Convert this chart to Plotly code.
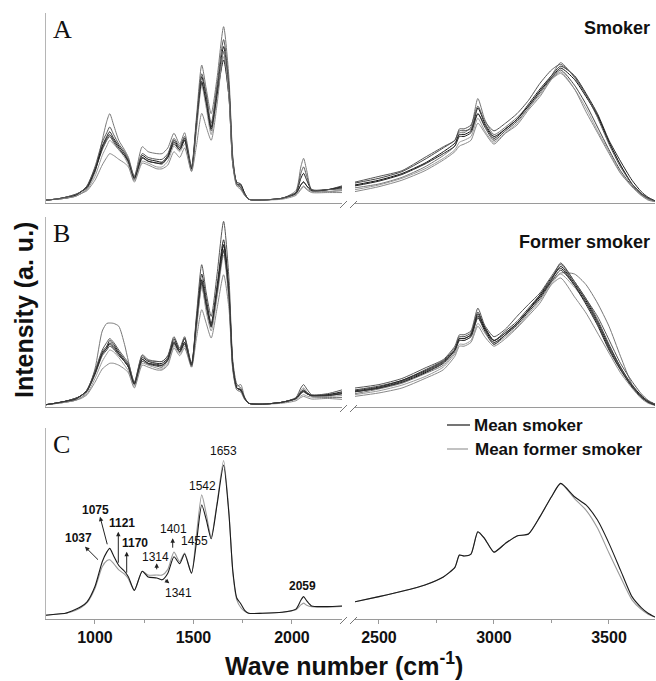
import plotly.graph_objects as go

# ---------------- data ----------------
# wavenumber sample points (cm-1) for the two segments of the broken axis
wn_low = [750, 800, 850, 900, 930, 960, 1000, 1037, 1060, 1075, 1095, 1121, 1150, 1170, 1200,
          1240, 1270, 1314, 1341, 1370, 1401, 1430, 1455, 1490, 1515, 1542, 1565, 1590, 1620,
          1653, 1680, 1700, 1720, 1740, 1760, 1780, 1850, 1950, 2020, 2045, 2059, 2075, 2100,
          2180, 2254]
wn_high = [2396, 2500, 2600, 2700, 2780, 2830, 2850, 2870, 2900, 2930, 2960, 3000, 3050, 3100,
           3150, 3200, 3250, 3290, 3350, 3400, 3450, 3500, 3550, 3600, 3640, 3670, 3700]

# Panel A : smoker spectra (intensity, a.u.)
smoker_low = [
    [1.5, 2, 2.5, 3.5, 5, 7.5, 16, 33, 43, 47, 41, 33, 28, 24, 14, 29.6, 27, 26, 26, 29, 36.7, 31, 37, 19, 45, 72.6, 60, 47, 66, 92.8, 66, 24, 10, 8, 4, 2, 1.6, 2.5, 6.5, 19, 23.5, 17, 7, 6, 6.5],
    [1.5, 2, 2.5, 4, 6, 9, 18, 30, 35, 37.5, 34, 30, 26, 22, 13, 25, 23, 22, 21.5, 25, 33, 29, 34, 18, 40, 66.5, 56, 40, 60, 82.3, 60, 22, 10, 9, 5, 2, 1.6, 2.5, 5.5, 13, 15.6, 12, 7, 7, 8],
    [1.5, 2, 3, 4.5, 6, 8, 17, 28, 33, 35, 32, 28, 25, 21, 12, 23.5, 22, 21, 20.5, 24, 31, 28, 33, 17, 40, 63, 52, 38, 58, 79.6, 58, 21, 10, 9.5, 5, 2, 1.6, 2.5, 5, 9.5, 11.2, 9, 6.5, 7, 9],
    [1.5, 2, 2.5, 3.5, 5, 7, 14, 25, 30, 33, 31, 28, 24, 20, 12, 22, 21, 19, 19, 22, 30, 27, 31, 17, 38, 62, 50, 36, 56, 77, 56, 20, 9, 9, 5, 2, 1.6, 2.5, 4.5, 7.5, 9, 7.5, 6, 6, 7],
    [1.5, 2, 3, 4, 6, 8.5, 17, 29, 34, 36, 33, 29, 25, 22, 13, 24, 22, 21, 21, 24, 32, 28, 33, 18, 42, 64, 53, 39, 57, 75.3, 56, 20, 11, 10, 5, 2, 1.6, 2.5, 5, 9.5, 11, 9, 6.5, 7, 8.5],
    [1.5, 2, 2.5, 3.5, 5, 6.5, 12, 20, 24, 26, 25, 23, 21, 19, 11, 21, 20, 18, 18, 20, 27, 24, 29, 16.5, 30, 47.2, 40, 33, 52, 80, 56, 20, 9, 7, 4, 2, 1.6, 2, 4, 7, 8.6, 7, 5.5, 5.5, 5.5],
    [1.5, 2, 3, 4.5, 6, 9, 19, 32, 37, 40, 36, 31, 27, 23, 14, 26, 24, 23, 23, 26, 34, 30, 35, 19, 43, 68, 57, 42, 62, 86, 62, 23, 10, 8, 4.5, 2, 1.6, 2.5, 5.5, 15.5, 19, 14, 7, 7, 7.5],
]
smoker_high = [
    [8, 10, 13.5, 19, 25, 30, 37, 37, 40, 55, 44, 36, 40, 45, 51, 59, 67, 73.9, 66, 57, 46, 32, 20, 10, 5, 2.5, 1],
    [9.5, 12, 15.5, 21, 27, 31.5, 36, 36, 38, 50, 42, 35, 39, 44, 51, 59, 66, 71, 65, 56, 46, 32, 20, 10, 5, 2.5, 1],
    [10.5, 13, 16.5, 23, 29, 33, 38, 38, 39, 47, 40, 33, 38, 43, 50, 58, 65.6, 70, 62, 52, 40, 28, 17, 9, 4.5, 2, 0.8],
    [7, 9.5, 13, 18, 23.5, 28, 32, 33, 35, 44.6, 38, 32, 37, 42, 50, 57, 65, 68.2, 60, 50, 38, 27, 16, 8.6, 4, 2, 0.8],
    [9, 11.5, 15, 20.5, 26, 30, 35, 35, 37, 47, 41, 34, 39, 44, 52, 60, 67, 72, 67, 57.7, 47, 33, 22, 12, 6, 3, 1.2],
    [6, 8.6, 12, 17, 22.6, 27, 30, 31, 33, 42, 37, 31, 36.7, 41, 49, 56, 65, 69, 60, 48, 37, 26, 15.6, 8.6, 4, 1.5, 0.7],
    [11, 14, 17, 24, 29.6, 33, 39, 39, 41, 51, 43, 38, 42, 47, 54, 63, 70, 73, 66.5, 57, 45, 31, 19, 10, 5, 2.5, 1],
]

# Panel B : former smoker spectra
former_low = [
    [1.2, 1.8, 2.5, 3.5, 5, 8, 20, 40, 44, 44.2, 44, 42.5, 33, 24, 13, 27.5, 25, 24, 24, 27, 35, 30, 36, 21, 42, 63.5, 52, 42, 60, 85.4, 58, 20, 11, 11.8, 5, 2, 1.5, 2.5, 4.5, 8.5, 10, 8, 5.5, 5, 5],
    [1.2, 2, 3, 4.5, 6, 9, 18, 28, 31, 33.7, 32, 28, 24, 21, 12, 25, 23, 22, 22, 25, 34, 29, 34, 22, 45, 67, 54, 42.5, 62, 85.4, 60, 22, 10, 9, 4.5, 2, 1.5, 2.5, 4.5, 7.2, 8.2, 7, 6, 6, 7],
    [1.2, 2, 3, 4, 6, 8.5, 17, 27, 30, 32, 30.5, 27, 24, 21, 12, 24, 22.5, 21.5, 21, 24.5, 33, 29, 33, 22, 43, 65, 53, 42, 60, 82.8, 58, 21, 10, 9, 4.5, 2, 1.5, 2.5, 4.5, 7, 8, 7, 6, 6.5, 7.5],
    [1.2, 2, 2.5, 3.5, 5, 7, 15, 24, 28, 30, 29, 26, 22, 19, 11, 23, 22, 20.5, 20, 23, 32, 28, 32, 22, 41, 63.5, 50, 40, 58, 80, 56, 20, 9, 8, 4, 2, 1.5, 2.5, 4, 5.8, 6.5, 5.8, 5.2, 5.5, 6],
    [1.2, 2, 3, 4.5, 6, 9, 18, 29, 32, 35, 33, 29, 25, 22, 12.5, 26, 24, 23, 23, 26, 36, 30, 36, 23, 46, 70, 57, 44, 64, 88, 62, 22, 10, 9, 4.5, 2, 1.5, 2.5, 4.5, 7.8, 9, 7.5, 6.2, 6.5, 8],
    [1.2, 1.8, 2.5, 3.5, 4.5, 6.5, 13, 20, 22, 23, 23, 22, 20, 18, 10, 22, 21, 19.5, 19.5, 22, 31, 27, 31, 21, 36, 51.2, 44, 36.3, 52, 69.6, 52, 19, 9, 8, 4, 2, 1.5, 2, 3.3, 5, 5.6, 5, 4.2, 4.5, 4],
    [1.2, 2, 3, 4.5, 6, 9, 19, 30, 34, 36, 34, 30, 26, 23, 13, 27, 24.5, 24, 24, 27, 37, 31, 37, 22, 48, 74.9, 60, 47.7, 70, 97.7, 68, 24, 12, 10, 5, 2, 1.5, 2.5, 5, 10, 11.8, 9.5, 6.5, 7, 9],
    [1.2, 2, 3, 4, 6, 8.5, 17.5, 28, 31, 33, 31, 28, 24, 21, 12, 25, 23, 22.5, 22, 25, 34, 29, 34, 22, 44, 66, 54, 43, 61, 82, 59, 21, 10, 9, 4.5, 2, 1.5, 2.5, 4.5, 7.3, 8.5, 7, 6, 6, 7],
]
former_high = [
    [7, 9.5, 12.5, 17.5, 22, 29, 35, 35, 37, 47, 41, 35, 39, 44, 51, 58, 66, 70.5, 70, 64.4, 54.7, 42.5, 26.7, 12, 6, 3, 1.5],
    [8, 10, 13, 18, 23, 30, 36, 36, 38, 48, 41, 34, 38, 44, 51, 58, 67, 74, 65, 56, 45, 32, 21, 11.5, 6, 3, 1.5],
    [9, 11, 14, 19.5, 24.5, 31, 37, 37, 39, 50, 42, 35, 40, 45, 52, 59, 67, 75.8, 66, 57, 46, 33, 21, 11, 5.5, 3, 1.2],
    [6.5, 8.5, 11.5, 16, 21, 28, 33, 33, 35, 44, 39, 33, 37, 42, 49, 56, 65, 70, 63, 55, 44, 31, 20, 11, 5.5, 2.5, 1],
    [8.5, 10.5, 14, 19, 24, 30, 36, 36, 38, 49, 42, 35, 39, 44, 51, 59, 68, 73, 64, 54, 43, 30, 19.5, 10.5, 5, 2.5, 1],
    [5.6, 7.4, 10, 15, 19.6, 26.7, 32, 32, 34, 42.5, 37, 32, 36, 41.6, 48, 54.7, 64.4, 67.9, 58, 49.5, 39, 28.4, 18, 10, 4.5, 2, 0.8],
    [10, 11.8, 15, 20.5, 25, 32, 38, 38, 40, 52, 43, 37, 41, 47.7, 54, 60, 68.8, 75, 66, 57, 47.7, 35.4, 23, 13.5, 7, 3.5, 1.5],
    [8, 10, 13.5, 18.5, 23.5, 30, 35, 35, 37, 47, 40, 33, 38, 43, 50, 57, 66, 72, 64, 55, 44, 31, 20, 11, 5.5, 2.5, 1],
]

# Panel C : mean spectra
mean_smoker_low = [2, 2.5, 3, 5, 6.5, 9, 17, 30, 35, 37, 33, 28, 25, 22, 15, 25, 22, 21.5, 20.5, 24, 32.6, 29, 34, 24, 40, 59.7, 52, 42, 60, 80.6, 55, 25, 11, 8, 4.5, 3, 3, 3.5, 5.2, 9.8, 11.7, 9.5, 6.8, 6.5, 6.8]
mean_former_low = [2, 2.5, 3, 4.5, 6, 8.5, 16, 27.4, 30.5, 31, 29, 25.7, 23.5, 21, 15, 25, 23, 23, 23, 26, 35, 30, 34.5, 24, 44, 65, 55, 43, 61, 83, 56, 24, 10, 6, 4, 3, 3, 3.5, 4.8, 7.4, 8.3, 7.2, 6.4, 6.3, 6.6]
mean_smoker_high = [9, 11.7, 14.5, 17.8, 22, 27, 33.5, 33, 34, 45.7, 42, 35, 39.6, 43.5, 44.5, 53.6, 64, 71, 64, 59.7, 51.8, 39.6, 25.6, 11.7, 6, 3, 1]
mean_former_high = [9, 11.7, 14.5, 17.8, 22, 27, 33.5, 33, 34, 45.7, 42, 35, 39.6, 43.5, 44.5, 53.6, 64, 71, 63, 57, 47.6, 34.5, 22, 10, 5, 2.5, 1]

curve_colors = ["#777777", "#111111", "#444444", "#999999", "#222222", "#888888", "#555555", "#333333"]

panel_letters = ["A", "B", "C"]
panel_titles = ["Smoker", "Former smoker"]
legend_names = ["Mean smoker", "Mean former smoker"]
peak_labels = ["1037", "1075", "1121", "1170", "1314", "1341", "1401", "1455", "1542", "1653", "2059"]
x_ticks_low = [1000, 1500, 2000]
x_ticks_high = [2500, 3000, 3500]

# ---------------- layout helpers ----------------
W, H = 656, 681
def px(x):
    return x / W
def py(y):
    return 1 - y / H

panels = [(13, 203), (217, 407), (428, 619)]   # top / bottom pixel rows
LEFT_DOM = [px(45.7), px(342)]
RIGHT_DOM = [px(355), px(655)]
AXIS_GRAY = "#9a9a9a"

fig = go.Figure()

def add_curve(p, ylow, yhigh, color, width=1.0, name=None):
    a = 2 * p + 1
    b = 2 * p + 2
    fig.add_trace(go.Scatter(x=wn_low, y=ylow, mode="lines", line=dict(color=color, width=width, shape="spline", smoothing=0.65),
                             xaxis="x" if a == 1 else f"x{a}", yaxis="y" if a == 1 else f"y{a}", showlegend=False, name=name))
    fig.add_trace(go.Scatter(x=wn_high, y=yhigh, mode="lines", line=dict(color=color, width=width, shape="spline", smoothing=0.6),
                             xaxis=f"x{b}", yaxis=f"y{b}", showlegend=False, name=name))

for i, (lo, hi) in enumerate(zip(smoker_low, smoker_high)):
    add_curve(0, lo, hi, curve_colors[i % len(curve_colors)])
for i, (lo, hi) in enumerate(zip(former_low, former_high)):
    add_curve(1, lo, hi, curve_colors[i % len(curve_colors)])
add_curve(2, mean_former_low, mean_former_high, "#9a9a9a", 1.1, legend_names[1])
add_curve(2, mean_smoker_low, mean_smoker_high, "#1a1a1a", 1.1, legend_names[0])

tick_font = dict(family="Liberation Sans, Arial", size=16, color="#111", weight="bold")
layout = dict(width=W, height=H, autosize=False, margin=dict(l=0, r=0, t=0, b=0),
              paper_bgcolor="white", plot_bgcolor="white", showlegend=False)

for p, (top, bot) in enumerate(panels):
    a = 2 * p + 1
    b = 2 * p + 2
    ydom = [py(bot), py(top)]
    is_c = (p == 2)
    xa = dict(domain=LEFT_DOM, range=[750, 2254], anchor="y" if a == 1 else f"y{a}",
              showline=True, linecolor=AXIS_GRAY, linewidth=1, showgrid=False, zeroline=False,
              showticklabels=is_c, ticks="outside" if is_c else "", ticklen=4, tickcolor=AXIS_GRAY,
              tickvals=x_ticks_low, tickfont=tick_font)
    xb = dict(domain=RIGHT_DOM, range=[2396, 3700], anchor=f"y{b}",
              showline=True, linecolor=AXIS_GRAY, linewidth=1, showgrid=False, zeroline=False,
              showticklabels=is_c, ticks="outside" if is_c else "", ticklen=4, tickcolor=AXIS_GRAY,
              tickvals=x_ticks_high, tickfont=tick_font)
    if is_c:
        xa["minor"] = dict(tickvals=[1250, 1750], ticks="outside", ticklen=3, tickcolor=AXIS_GRAY)
        xb["minor"] = dict(tickvals=[2750, 3250], ticks="outside", ticklen=3, tickcolor=AXIS_GRAY)
    ya = dict(domain=ydom, range=[0, 100], anchor="x" if a == 1 else f"x{a}", showline=True,
              linecolor="#b5b5b5", linewidth=1, showgrid=False, zeroline=False, showticklabels=False, ticks="")
    yb = dict(domain=ydom, range=[0, 100], anchor=f"x{b}", visible=False, showgrid=False, zeroline=False)
    layout["xaxis" if a == 1 else f"xaxis{a}"] = xa
    layout[f"xaxis{b}"] = xb
    layout["yaxis" if a == 1 else f"yaxis{a}"] = ya
    layout[f"yaxis{b}"] = yb

fig.update_layout(**layout)

shapes = []
annotations = []
# axis-break marks
for top, bot in panels:
    for x0 in (340, 350):
        shapes.append(dict(type="line", xref="paper", yref="paper", x0=px(x0), y0=py(bot + 5), x1=px(x0 + 7), y1=py(bot - 2),
                           line=dict(color="#777", width=1)))

# panel letters
for (top, bot), letter in zip(panels, panel_letters):
    annotations.append(dict(text=letter, x=px(51), y=py(top + 16), xref="paper", yref="paper", xanchor="left", yanchor="middle",
                            showarrow=False, font=dict(family="Liberation Serif, Times New Roman", size=26, color="#111")))
# panel titles
title_pos = [(652, 28), (652, 242)]
for t, (x, y) in zip(panel_titles, title_pos):
    annotations.append(dict(text=t, x=px(x), y=py(y), xref="paper", yref="paper", xanchor="right", yanchor="middle",
                            showarrow=False, font=dict(family="Liberation Sans, Arial", size=18, color="#111", weight="bold")))
# legend of panel C
leg_rows = [(425, "#1a1a1a", 447, 470, 472), (449, "#9a9a9a", 447, 468, 473)]
for name, (y, col, l0, l1, tx) in zip(legend_names, leg_rows):
    shapes.append(dict(type="line", xref="paper", yref="paper", x0=px(l0), x1=px(l1), y0=py(y), y1=py(y), line=dict(color=col, width=1.2)))
    annotations.append(dict(text=name, x=px(tx), y=py(y), xref="paper", yref="paper", xanchor="left", yanchor="middle",
                            showarrow=False, font=dict(family="Liberation Sans, Arial", size=17, color="#111", weight="bold")))

# peak labels in panel C: (label, text x, text y, bold)
label_pos = {
    "1037": (78, 538, True), "1075": (95, 510, True), "1121": (122, 523, True), "1170": (135, 543, True),
    "1314": (155, 557, False), "1341": (178, 593, False), "1401": (173, 529, False), "1455": (194, 541, False),
    "1542": (202, 486, False), "1653": (223, 451, False), "2059": (302, 586, True),
}
for lab in peak_labels:
    x, y, bold = label_pos[lab]
    annotations.append(dict(text=lab, x=px(x), y=py(y), xref="paper", yref="paper", xanchor="center", yanchor="middle",
                            showarrow=False, font=dict(family="Liberation Sans, Arial", size=12, color="#111",
                                                       weight="bold" if bold else "normal")))
# arrows (head near label, tail on spectrum)
arrows = [((85, 546.7), (100, 561.7)), ((100, 516.7), (108.3, 548.3)), ((118.3, 531.7), (118.3, 566.7)),
          ((126.7, 551.7), (126.7, 576.7)), ((156.7, 563.3), (156.7, 573.3)), ((172.7, 538.3), (172.7, 551.7)),
          ((186, 548.3), (185, 553.3)), ((169.3, 583.3), (163.3, 578.3))]
for (hx, hy), (tx, ty) in arrows:
    annotations.append(dict(text=" ", x=px(hx), y=py(hy), xref="paper", yref="paper", ax=tx - hx, ay=ty - hy,
                            axref="pixel", ayref="pixel", showarrow=True, arrowhead=2, arrowsize=0.9, arrowwidth=1,
                            arrowcolor="#222", standoff=0, startstandoff=0, font=dict(size=4)))

# axis titles
annotations.append(dict(text="Wave number (cm<sup>-1</sup>)", x=px(344), y=py(664), xref="paper", yref="paper",
                        xanchor="center", yanchor="middle", showarrow=False,
                        font=dict(family="Liberation Sans, Arial", size=25, color="#111", weight="bold")))
annotations.append(dict(text="Intensity (a. u.)", x=px(24), y=py(310), xref="paper", yref="paper", textangle=-90,
                        xanchor="center", yanchor="middle", showarrow=False,
                        font=dict(family="Liberation Sans, Arial", size=25, color="#111", weight="bold")))

fig.update_layout(shapes=shapes, annotations=annotations)
fig.write_html("out.html")
